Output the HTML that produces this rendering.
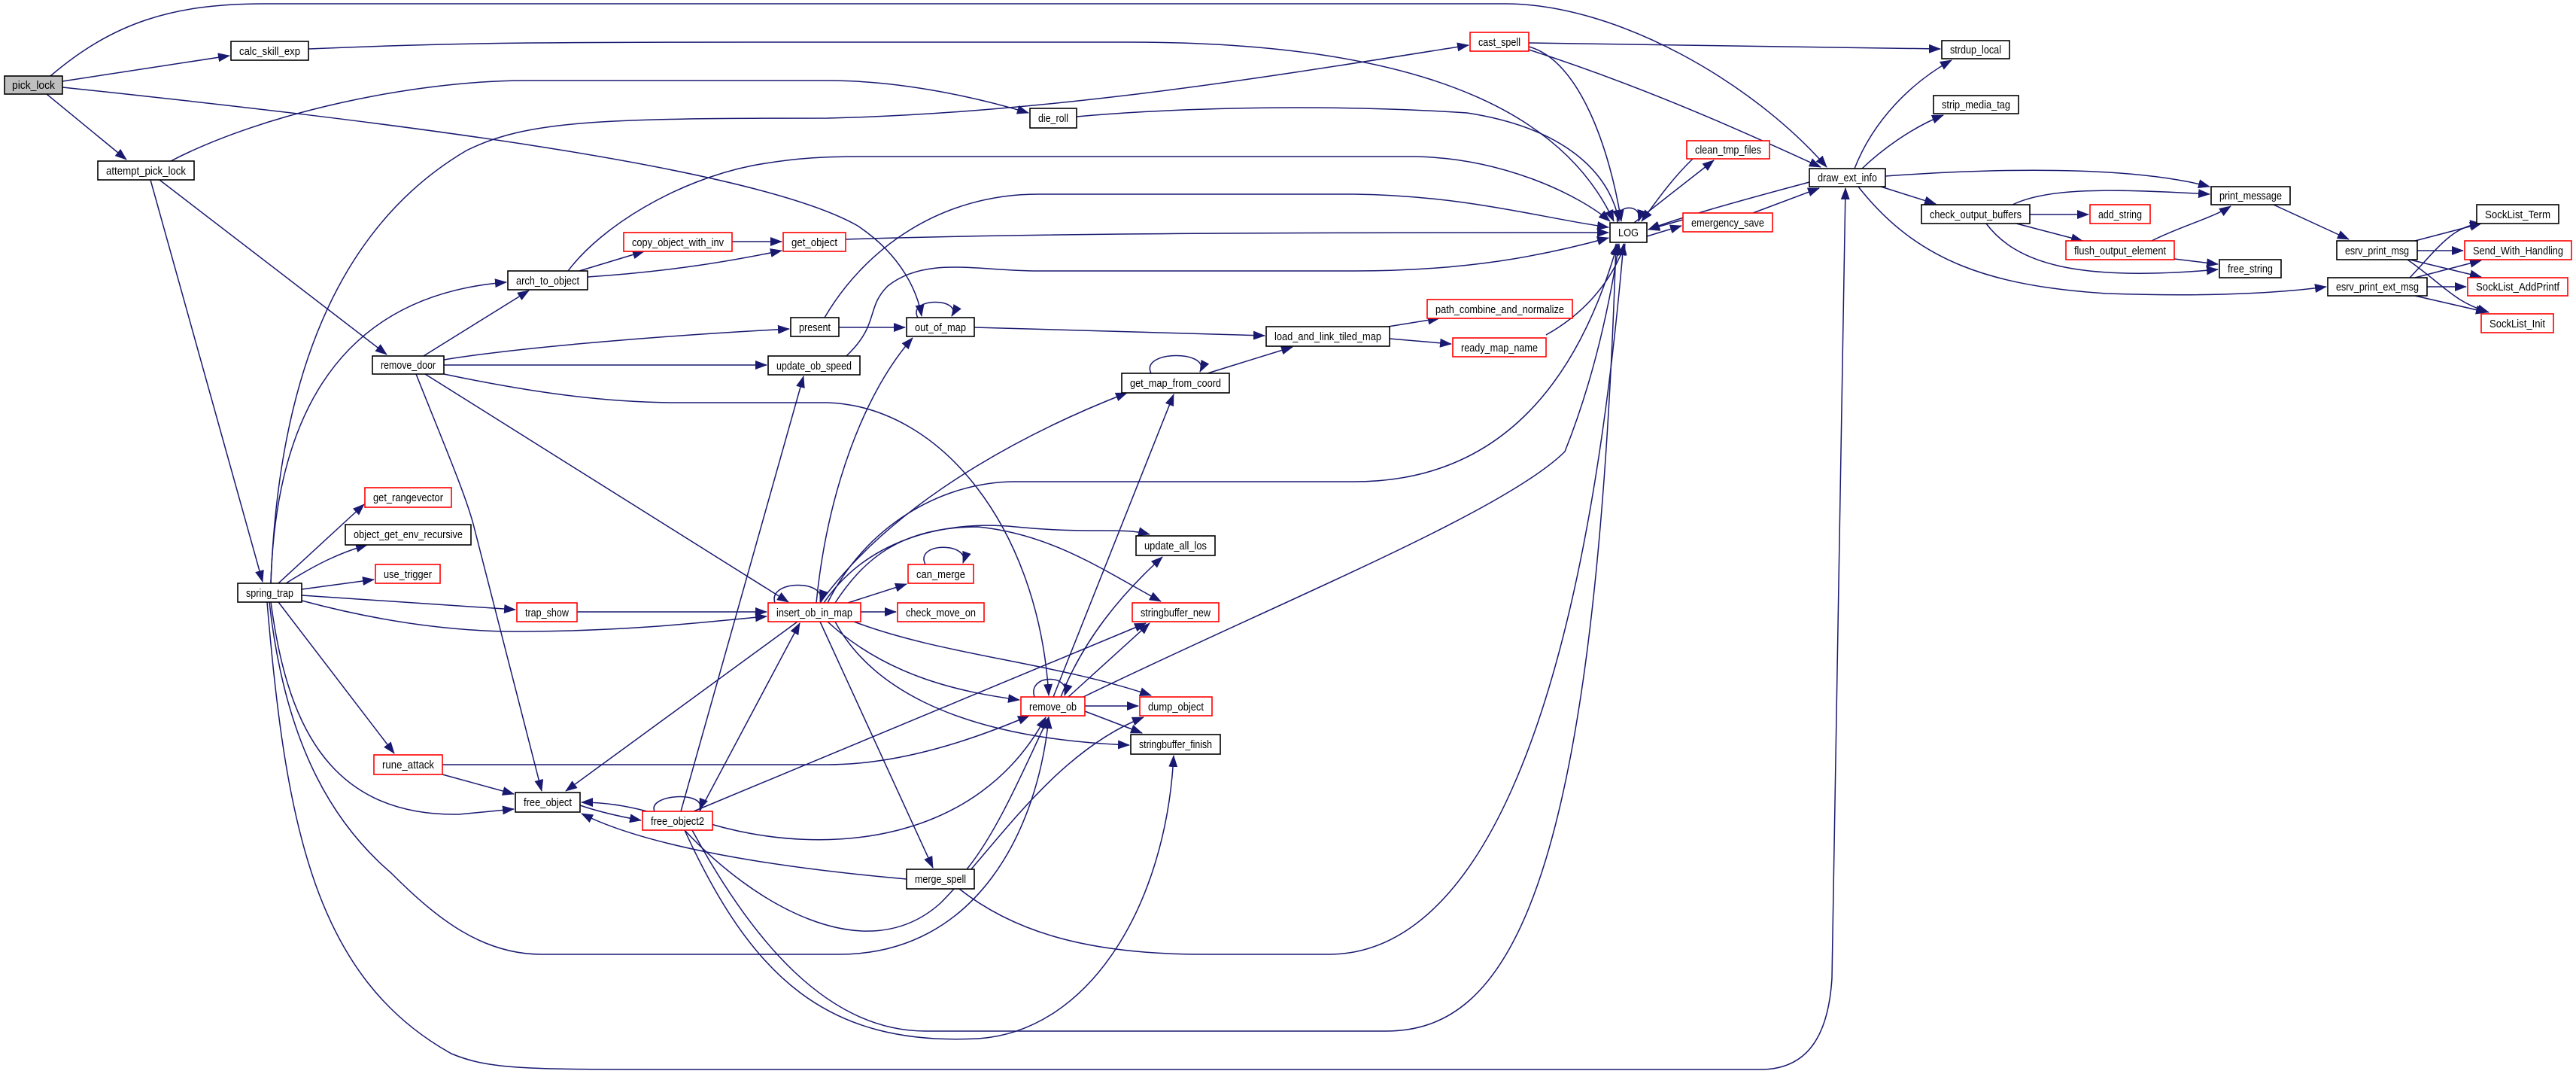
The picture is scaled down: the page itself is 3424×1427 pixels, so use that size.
<!DOCTYPE html>
<html><head><meta charset="utf-8"><style>
html,body{margin:0;padding:0;background:#fff;}
svg{display:block;}
text{font-family:"Liberation Sans",sans-serif;font-size:15px;fill:#000;}
.e{fill:none;stroke:#191970;stroke-width:1.5;}
.b{fill:#fff;stroke:#000;stroke-width:1.6;}
.r{fill:#fff;stroke:#ff0000;stroke-width:1.6;}
</style></head><body>
<svg width="3424" height="1427" viewBox="0 0 3424 1427" xmlns="http://www.w3.org/2000/svg">
<defs><marker id="a" markerUnits="userSpaceOnUse" markerWidth="16" markerHeight="12" refX="15" refY="6" orient="auto"><path d="M0,0 L16,6 L0,12 z" fill="#191970"/></marker></defs>
<g class="e" marker-end="url(#a)">
<path d="M67,101 C150,30 230,5 350,5 L2000,5 C2150,5 2330,110 2428,222"/>
<path d="M83,108 L305,74"/>
<path d="M410,65 C600,57 700,56 1000,56 L1500,56 C1800,56 2060,110 2145,294"/>
<path d="M62,125 L168,212"/>
<path d="M83,116 C500,160 1000,220 1140,300 C1200,340 1220,390 1225,420"/>
<path d="M227,214 C350,150 550,107 700,107 L1100,107 C1200,107 1300,130 1367,150"/>
<path d="M212,239 L514,471"/>
<path d="M200,239 L349,773"/>
<path d="M360,775 C370,500 450,300 620,200 C700,160 800,157 1100,157 C1400,150 1700,100 1952,60"/>
<path d="M360,775 C365,600 420,395 673,375"/>
<path d="M370,775 L484,670"/>
<path d="M380,775 C420,750 450,735 488,724"/>
<path d="M401,783 L497,770"/>
<path d="M401,791 L685,810"/>
<path d="M401,798 C520,830 620,840 700,839 C850,838 950,825 1019,819"/>
<path d="M370,800 L524,1001"/>
<path d="M360,800 C380,950 430,1085 610,1082 L683,1075"/>
<path d="M358,800 C380,1000 450,1100 520,1160 C580,1220 640,1268 720,1268 L1115,1268 C1300,1268 1380,1100 1394,953"/>
<path d="M355,800 C380,1100 420,1300 600,1400 C650,1421 700,1421 900,1421 L2340,1421 C2400,1421 2430,1380 2435,1300 L2453,250"/>
<path d="M770,360 L856,334"/>
<path d="M781,368 C900,360 980,345 1039,333"/>
<path d="M755,360 C800,300 900,240 1000,220 C1060,209 1100,208 1150,208 L1880,208 C2000,210 2100,260 2140,294"/>
<path d="M1124,318 C1400,309 1800,309 2138,309"/>
<path d="M973,321 L1039,321"/>
<path d="M563,473 L703,386"/>
<path d="M590,478 C700,460 900,445 1049,437"/>
<path d="M590,485 L1019,485"/>
<path d="M590,497 C700,520 800,535 900,535 L1100,535 C1250,540 1380,700 1394,924"/>
<path d="M565,497 L1048,800"/>
<path d="M553,497 C590,590 620,660 630,700 L720,1051"/>
<path d="M1115,435 L1203,435"/>
<path d="M1096,422 C1150,330 1250,258 1380,258 L1800,258 C1950,260 2050,290 2138,302"/>
<path d="M1125,473 C1170,430 1150,410 1180,380 C1230,340 1300,360 1380,360 L1800,360 C1950,360 2050,340 2138,316"/>
<path d="M1295,435 L1681,446"/>
<path d="M1845,434 L1913,423"/>
<path d="M1847,450 L1929,457"/>
<path d="M2055,445 C2100,420 2140,380 2160,324"/>
<path d="M1605,496 L1718,461"/>
<path d="M2032,62 C2100,80 2140,200 2155,294"/>
<path d="M2032,57 L2579,65"/>
<path d="M2032,66 C2200,120 2350,190 2420,222"/>
<path d="M1431,155 C1600,140 1800,140 1950,150 C2080,170 2140,230 2152,294"/>
<path d="M2172,296 L2278,213"/>
<path d="M2250,211 C2220,240 2200,270 2182,294"/>
<path d="M2189,314 L2235,300"/>
<path d="M2237,292 L2191,305"/>
<path d="M2330,283 L2418,250"/>
<path d="M2405,242 C2300,270 2230,290 2191,305"/>
<path d="M2465,224 C2490,160 2540,110 2594,80"/>
<path d="M2475,224 C2500,200 2540,170 2583,153"/>
<path d="M2506,234 C2700,220 2850,225 2937,248"/>
<path d="M2500,248 L2573,271"/>
<path d="M2470,248 C2550,350 2650,380 2800,390 C2950,395 3040,388 3092,381"/>
<path d="M2675,272 C2720,250 2800,250 2937,258"/>
<path d="M2698,285 L2776,285"/>
<path d="M2680,297 L2768,320"/>
<path d="M2640,297 C2680,350 2760,375 2948,358"/>
<path d="M2860,320 C2900,300 2940,290 2965,274"/>
<path d="M2890,344 L2948,351"/>
<path d="M3022,272 L3122,318"/>
<path d="M3210,320 L3298,297"/>
<path d="M3213,333 L3274,333"/>
<path d="M3203,345 L3298,368"/>
<path d="M3200,345 C3250,380 3260,400 3308,415"/>
<path d="M3203,369 C3240,330 3260,300 3298,297"/>
<path d="M3210,369 L3298,346"/>
<path d="M3226,381 L3278,381"/>
<path d="M3210,393 L3306,415"/>
<path d="M1127,801 L1205,776"/>
<path d="M1144,813 L1191,813"/>
<path d="M1095,801 C1150,720 1250,690 1350,700 C1450,710 1490,700 1528,710"/>
<path d="M1110,801 C1150,740 1200,700 1300,700 C1400,710 1470,760 1543,799"/>
<path d="M1100,826 C1180,900 1280,920 1355,930"/>
<path d="M1135,826 C1250,870 1400,880 1530,924"/>
<path d="M1110,826 C1150,900 1250,980 1501,990"/>
<path d="M1090,826 L1240,1153"/>
<path d="M1100,801 C1150,700 1250,640 1350,640 L1800,640 C2000,640 2100,500 2150,324"/>
<path d="M1090,801 C1200,650 1400,560 1498,522"/>
<path d="M1085,801 C1100,650 1150,520 1213,449"/>
<path d="M1060,826 L752,1051"/>
<path d="M767,813 L1019,813"/>
<path d="M588,1029 L683,1055"/>
<path d="M588,1016 L1100,1016 C1200,1016 1300,980 1368,951"/>
<path d="M771,1070 C800,1080 830,1086 852,1090"/>
<path d="M860,1078 C830,1070 800,1066 773,1066"/>
<path d="M905,1078 L1068,500"/>
<path d="M930,1078 L1063,828"/>
<path d="M945,1095 C1100,1140 1300,1120 1390,953"/>
<path d="M922,1078 L1523,828"/>
<path d="M910,1103 C1000,1200 1150,1290 1250,1200 C1320,1130 1400,1000 1520,953"/>
<path d="M910,1103 C1000,1300 1100,1390 1300,1380 C1450,1370 1550,1200 1560,1004"/>
<path d="M920,1103 C1000,1250 1100,1370 1230,1370 L1842,1370 C2000,1370 2120,1200 2148,324"/>
<path d="M1285,1155 C1330,1100 1370,1000 1394,953"/>
<path d="M1205,1168 C1000,1150 850,1120 773,1081"/>
<path d="M1275,1181 C1350,1240 1450,1268 1600,1268 L1766,1268 C1950,1268 2100,1000 2158,324"/>
<path d="M1442,938 L1513,938"/>
<path d="M1442,945 L1518,974"/>
<path d="M1420,926 L1528,828"/>
<path d="M1410,926 C1440,850 1490,790 1545,740"/>
<path d="M1400,926 L1560,524"/>
<path d="M1440,926 C1700,800 2000,680 2080,600 C2120,500 2140,400 2152,324"/>
<path d="M1220,422 C1205,395 1280,395 1265,420"/>
<path d="M1530,496 C1515,465 1610,465 1595,494"/>
<path d="M2150,296 C2145,270 2185,270 2178,294"/>
<path d="M1030,801 C1020,770 1100,770 1090,799"/>
<path d="M1230,750 C1215,720 1290,720 1280,748"/>
<path d="M1375,926 C1365,895 1425,895 1415,924"/>
<path d="M870,1078 C860,1055 940,1050 930,1076"/>
</g>
<g>
<rect x="6" y="101" width="77" height="24" fill="#bfbfbf" stroke="#000" stroke-width="1.6"/><text x="44.5" y="118" text-anchor="middle" textLength="57" lengthAdjust="spacingAndGlyphs">pick_lock</text>
<rect class="b" x="307" y="55" width="103" height="25"/><text x="358.5" y="73" text-anchor="middle" textLength="81" lengthAdjust="spacingAndGlyphs">calc_skill_exp</text>
<rect class="b" x="130" y="214" width="128" height="25"/><text x="194" y="232" text-anchor="middle" textLength="106" lengthAdjust="spacingAndGlyphs">attempt_pick_lock</text>
<rect class="r" x="829" y="309" width="144" height="25"/><text x="901" y="327" text-anchor="middle" textLength="122" lengthAdjust="spacingAndGlyphs">copy_object_with_inv</text>
<rect class="b" x="675" y="360" width="106" height="25"/><text x="728" y="378" text-anchor="middle" textLength="84" lengthAdjust="spacingAndGlyphs">arch_to_object</text>
<rect class="b" x="495" y="473" width="95" height="24"/><text x="542.5" y="490" text-anchor="middle" textLength="73" lengthAdjust="spacingAndGlyphs">remove_door</text>
<rect class="r" x="485" y="648" width="115" height="26"/><text x="542.5" y="666" text-anchor="middle" textLength="93" lengthAdjust="spacingAndGlyphs">get_rangevector</text>
<rect class="b" x="459" y="697" width="167" height="27"/><text x="542.5" y="715" text-anchor="middle" textLength="145" lengthAdjust="spacingAndGlyphs">object_get_env_recursive</text>
<rect class="r" x="499" y="750" width="86" height="25"/><text x="542" y="768" text-anchor="middle" textLength="64" lengthAdjust="spacingAndGlyphs">use_trigger</text>
<rect class="b" x="316" y="775" width="85" height="25"/><text x="358.5" y="793" text-anchor="middle" textLength="63" lengthAdjust="spacingAndGlyphs">spring_trap</text>
<rect class="r" x="687" y="801" width="80" height="25"/><text x="727" y="819" text-anchor="middle" textLength="58" lengthAdjust="spacingAndGlyphs">trap_show</text>
<rect class="r" x="497" y="1003" width="91" height="26"/><text x="542.5" y="1021" text-anchor="middle" textLength="69" lengthAdjust="spacingAndGlyphs">rune_attack</text>
<rect class="b" x="685" y="1053" width="86" height="26"/><text x="728" y="1071" text-anchor="middle" textLength="64" lengthAdjust="spacingAndGlyphs">free_object</text>
<rect class="r" x="854" y="1078" width="93" height="25"/><text x="900.5" y="1096" text-anchor="middle" textLength="71" lengthAdjust="spacingAndGlyphs">free_object2</text>
<rect class="r" x="1954" y="43" width="78" height="25"/><text x="1993" y="61" text-anchor="middle" textLength="56" lengthAdjust="spacingAndGlyphs">cast_spell</text>
<rect class="b" x="1369" y="144" width="62" height="26"/><text x="1400" y="162" text-anchor="middle" textLength="40" lengthAdjust="spacingAndGlyphs">die_roll</text>
<rect class="r" x="1041" y="309" width="83" height="25"/><text x="1082.5" y="327" text-anchor="middle" textLength="61" lengthAdjust="spacingAndGlyphs">get_object</text>
<rect class="b" x="2140" y="296" width="49" height="26"/><text x="2164.5" y="314" text-anchor="middle" textLength="27" lengthAdjust="spacingAndGlyphs">LOG</text>
<rect class="b" x="1051" y="422" width="64" height="25"/><text x="1083" y="440" text-anchor="middle" textLength="42" lengthAdjust="spacingAndGlyphs">present</text>
<rect class="b" x="1205" y="422" width="90" height="25"/><text x="1250" y="440" text-anchor="middle" textLength="68" lengthAdjust="spacingAndGlyphs">out_of_map</text>
<rect class="b" x="1021" y="473" width="122" height="25"/><text x="1082" y="491" text-anchor="middle" textLength="100" lengthAdjust="spacingAndGlyphs">update_ob_speed</text>
<rect class="r" x="1897" y="398" width="193" height="25"/><text x="1993.5" y="416" text-anchor="middle" textLength="171" lengthAdjust="spacingAndGlyphs">path_combine_and_normalize</text>
<rect class="b" x="1683" y="434" width="164" height="26"/><text x="1765" y="452" text-anchor="middle" textLength="142" lengthAdjust="spacingAndGlyphs">load_and_link_tiled_map</text>
<rect class="r" x="1931" y="449" width="124" height="25"/><text x="1993" y="467" text-anchor="middle" textLength="102" lengthAdjust="spacingAndGlyphs">ready_map_name</text>
<rect class="b" x="1491" y="496" width="143" height="26"/><text x="1562.5" y="514" text-anchor="middle" textLength="121" lengthAdjust="spacingAndGlyphs">get_map_from_coord</text>
<rect class="b" x="1510" y="712" width="105" height="26"/><text x="1562.5" y="730" text-anchor="middle" textLength="83" lengthAdjust="spacingAndGlyphs">update_all_los</text>
<rect class="r" x="1207" y="750" width="87" height="25"/><text x="1250.5" y="768" text-anchor="middle" textLength="65" lengthAdjust="spacingAndGlyphs">can_merge</text>
<rect class="r" x="1021" y="801" width="123" height="25"/><text x="1082.5" y="819" text-anchor="middle" textLength="101" lengthAdjust="spacingAndGlyphs">insert_ob_in_map</text>
<rect class="r" x="1193" y="801" width="115" height="25"/><text x="1250.5" y="819" text-anchor="middle" textLength="93" lengthAdjust="spacingAndGlyphs">check_move_on</text>
<rect class="r" x="1505" y="801" width="115" height="25"/><text x="1562.5" y="819" text-anchor="middle" textLength="93" lengthAdjust="spacingAndGlyphs">stringbuffer_new</text>
<rect class="r" x="1357" y="926" width="85" height="25"/><text x="1399.5" y="944" text-anchor="middle" textLength="63" lengthAdjust="spacingAndGlyphs">remove_ob</text>
<rect class="r" x="1515" y="926" width="96" height="25"/><text x="1563" y="944" text-anchor="middle" textLength="74" lengthAdjust="spacingAndGlyphs">dump_object</text>
<rect class="b" x="1503" y="976" width="119" height="26"/><text x="1562.5" y="994" text-anchor="middle" textLength="97" lengthAdjust="spacingAndGlyphs">stringbuffer_finish</text>
<rect class="b" x="1205" y="1155" width="90" height="26"/><text x="1250" y="1173" text-anchor="middle" textLength="68" lengthAdjust="spacingAndGlyphs">merge_spell</text>
<rect class="b" x="2581" y="54" width="90" height="24"/><text x="2626" y="71" text-anchor="middle" textLength="68" lengthAdjust="spacingAndGlyphs">strdup_local</text>
<rect class="b" x="2570" y="127" width="113" height="24"/><text x="2626.5" y="144" text-anchor="middle" textLength="91" lengthAdjust="spacingAndGlyphs">strip_media_tag</text>
<rect class="r" x="2242" y="187" width="110" height="24"/><text x="2297" y="204" text-anchor="middle" textLength="88" lengthAdjust="spacingAndGlyphs">clean_tmp_files</text>
<rect class="b" x="2405" y="224" width="101" height="24"/><text x="2455.5" y="241" text-anchor="middle" textLength="79" lengthAdjust="spacingAndGlyphs">draw_ext_info</text>
<rect class="r" x="2237" y="283" width="119" height="25"/><text x="2296.5" y="301" text-anchor="middle" textLength="97" lengthAdjust="spacingAndGlyphs">emergency_save</text>
<rect class="b" x="2939" y="248" width="105" height="24"/><text x="2991.5" y="265" text-anchor="middle" textLength="83" lengthAdjust="spacingAndGlyphs">print_message</text>
<rect class="b" x="2554" y="272" width="144" height="25"/><text x="2626" y="290" text-anchor="middle" textLength="122" lengthAdjust="spacingAndGlyphs">check_output_buffers</text>
<rect class="r" x="2778" y="272" width="80" height="25"/><text x="2818" y="290" text-anchor="middle" textLength="58" lengthAdjust="spacingAndGlyphs">add_string</text>
<rect class="r" x="2746" y="320" width="144" height="25"/><text x="2818" y="338" text-anchor="middle" textLength="122" lengthAdjust="spacingAndGlyphs">flush_output_element</text>
<rect class="b" x="2950" y="345" width="82" height="24"/><text x="2991" y="362" text-anchor="middle" textLength="60" lengthAdjust="spacingAndGlyphs">free_string</text>
<rect class="b" x="3106" y="320" width="107" height="25"/><text x="3159.5" y="338" text-anchor="middle" textLength="85" lengthAdjust="spacingAndGlyphs">esrv_print_msg</text>
<rect class="b" x="3094" y="369" width="132" height="24"/><text x="3160" y="386" text-anchor="middle" textLength="110" lengthAdjust="spacingAndGlyphs">esrv_print_ext_msg</text>
<rect class="b" x="3292" y="272" width="109" height="25"/><text x="3346.5" y="290" text-anchor="middle" textLength="87" lengthAdjust="spacingAndGlyphs">SockList_Term</text>
<rect class="r" x="3276" y="320" width="142" height="25"/><text x="3347" y="338" text-anchor="middle" textLength="120" lengthAdjust="spacingAndGlyphs">Send_With_Handling</text>
<rect class="r" x="3280" y="369" width="133" height="24"/><text x="3346.5" y="386" text-anchor="middle" textLength="111" lengthAdjust="spacingAndGlyphs">SockList_AddPrintf</text>
<rect class="r" x="3298" y="417" width="96" height="25"/><text x="3346" y="435" text-anchor="middle" textLength="74" lengthAdjust="spacingAndGlyphs">SockList_Init</text>
</g>
</svg>
</body></html>
